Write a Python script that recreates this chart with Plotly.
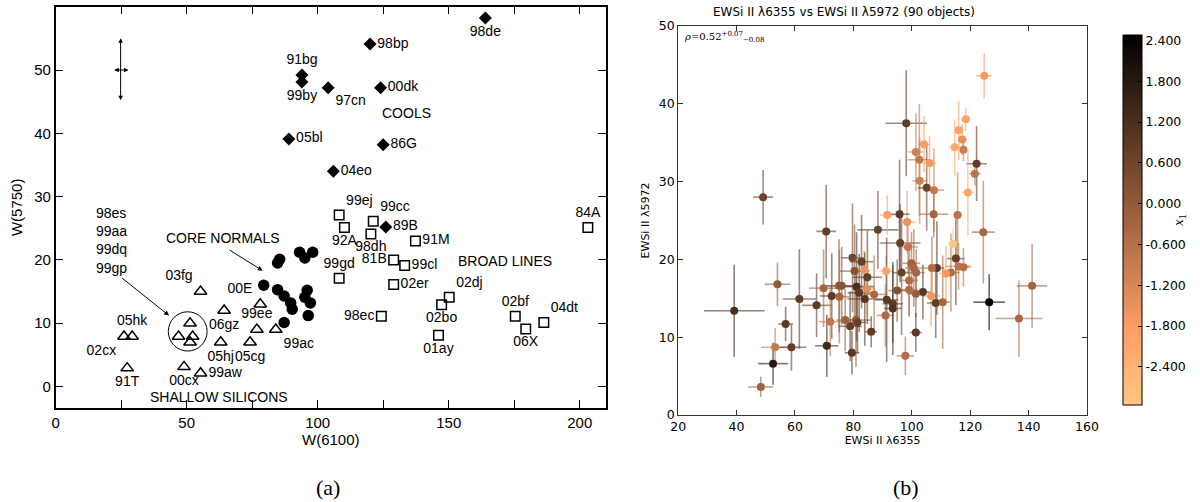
import plotly.graph_objects as go

# ---------------- Panel (a) data ----------------
cool_names = ["98de", "98bp", "91bg", "99by", "97cn", "00dk", "05bl", "86G", "04eo", "89B"]
cool_w6100 = [164.0, 120.0, 94.0, 94.0, 104.0, 124.0, 89.0, 125.0, 106.0, 126.0]
cool_w5750 = [58.2, 54.1, 49.2, 48.1, 47.2, 47.2, 39.1, 38.2, 34.0, 25.2]

core_w6100 = [79.4, 84.7, 85.5, 93.1, 95.1, 98.1, 84.7, 87.2, 89.7, 90.3, 96.0, 95.1, 97.2, 96.4, 87.2]
core_w5750 = [16.0, 19.5, 20.1, 21.2, 20.3, 21.2, 15.3, 14.3, 13.2, 12.2, 15.2, 14.1, 13.2, 11.2, 10.1]

ss_names = ["03fg", "06gz", "00E", "99ee", "99ac", "05hj", "05cg", "00cx", "99aw", "02cx", "05hk", "91T"]
ss_w6100 = [55.3, 64.3, 78.1, 76.8, 84.0, 63.0, 74.2, 49.0, 55.3, 26.1, 29.2, 27.3]
ss_w5750 = [15.0, 12.0, 13.0, 9.0, 9.0, 7.0, 7.0, 3.1, 2.1, 7.9, 7.9, 2.9]

cluster_names = ["98es", "99aa", "99dq", "99gp"]
cluster_w6100 = [51.3, 46.9, 52.3, 51.3]
cluster_w5750 = [10.0, 7.9, 7.9, 7.0]

bl_names = ["99ej", "92A", "99cc", "98dh", "91M", "81B", "99cl", "99gd", "02er", "02dj",
            "02bo", "98ec", "01ay", "02bf", "06X", "04dt", "84A"]
bl_w6100 = [108.2, 110.2, 121.2, 120.3, 137.3, 129.0, 133.2, 108.2, 129.0, 150.2,
            147.3, 124.3, 146.1, 175.4, 179.4, 186.3, 203.1]
bl_w5750 = [27.1, 25.1, 26.1, 24.1, 23.0, 20.0, 19.1, 17.1, 16.1, 14.1,
            12.9, 11.1, 8.1, 11.1, 9.1, 10.1, 25.1]

# typical error bars drawn in the corner
typ_err_w6100 = 3.0
typ_err_w5750 = 5.0

# ---------------- Panel (b) data ----------------
ew6355 = [39.2, 54.0, 56.8, 53.2, 52.5, 48.3, 58.8, 61.5, 67.4, 70.9,
          70.7, 69.8, 72.1, 72.6, 75.1, 75.2, 76.0, 77.2, 78.9, 79.5,
          79.7, 80.4, 81.1, 80.9, 81.4, 82.0, 82.8, 83.7, 83.9, 84.8,
          84.6, 86.1, 87.1, 88.4, 91.0, 91.2, 91.4, 93.5, 93.5, 97.8,
          96.0, 96.5, 98.4, 98.7, 99.1, 99.9, 49.1, 98.1, 91.6, 95.8,
          118.5, 116.1, 117.3, 114.7, 117.7, 122.2, 121.6, 119.2, 101.4, 104.2,
          102.6, 106.1, 102.7, 105.1, 107.6, 107.5, 115.7, 124.5, 114.1, 124.8,
          126.5, 141.2, 136.7, 115.1, 108.6, 106.9, 116.0, 117.7, 113.4, 111.7,
          106.6, 108.2, 110.6, 103.8, 101.4, 101.4, 100.7, 101.5, 99.1, 95.0]
ew5972 = [13.4, 16.8, 11.7, 8.7, 6.6, 3.6, 8.7, 14.9, 14.1, 8.9,
          23.6, 16.3, 12.0, 15.3, 16.6, 15.2, 16.6, 12.2, 11.4, 8.0,
          20.2, 18.5, 16.5, 12.2, 11.9, 15.7, 19.7, 18.6, 14.9, 17.7,
          16.2, 10.7, 15.5, 23.8, 12.8, 18.5, 14.8, 14.3, 13.7, 7.6,
          22.1, 18.3, 24.8, 21.6, 17.3, 19.5, 28.0, 37.5, 25.7, 25.8,
          38.0, 36.6, 35.4, 34.4, 34.1, 32.3, 31.0, 28.6, 33.8, 34.8,
          32.8, 32.4, 30.1, 29.2, 28.9, 25.8, 25.7, 23.5, 22.0, 43.6,
          14.5, 16.6, 12.4, 20.1, 18.9, 18.9, 19.1, 19.0, 18.3, 18.2,
          15.3, 14.4, 14.5, 15.8, 15.6, 10.6, 18.9, 18.3, 16.1, 16.0]
err6355 = [10.4, 4.3, 2.5, 4.8, 5.1, 4.3, 5.1, 5.7, 5.0, 4.0,
           3.4, 5.0, 4.0, 4.0, 4.5, 3.5, 5.0, 3.0, 4.0, 2.5,
           4.0, 5.0, 6.0, 5.0, 3.0, 4.0, 4.0, 2.0, 6.0, 5.0,
           3.0, 2.0, 4.0, 7.0, 3.0, 2.0, 4.0, 3.5, 3.0, 3.0,
           7.0, 3.0, 3.0, 3.5, 3.0, 3.0, 3.4, 7.1, 2.5, 3.5,
           1.5, 1.5, 1.5, 2.0, 1.0, 3.5, 2.0, 2.0, 2.5, 2.0,
           4.0, 2.0, 2.5, 3.0, 3.5, 5.0, 1.5, 4.0, 1.5, 2.8,
           5.4, 5.2, 8.1, 3.0, 2.5, 3.0, 4.5, 2.0, 3.0, 2.5,
           3.0, 3.0, 2.5, 2.5, 3.0, 2.0, 3.0, 3.0, 2.5, 3.0]
err5972 = [5.9, 2.8, 2.2, 2.5, 2.7, 1.3, 3.0, 6.4, 4.1, 4.0,
           6.0, 5.0, 4.5, 5.5, 6.0, 6.0, 5.0, 4.0, 4.5, 2.8,
           7.0, 6.0, 7.0, 6.0, 4.0, 5.0, 6.0, 2.5, 6.0, 6.0,
           3.5, 2.0, 5.0, 5.0, 4.0, 2.0, 8.0, 5.0, 6.0, 2.5,
           5.0, 8.0, 4.0, 3.5, 4.5, 4.0, 3.5, 6.8, 2.5, 7.0,
           1.5, 3.8, 2.0, 3.6, 1.5, 4.8, 1.5, 5.5, 5.0, 3.6,
           7.2, 3.5, 5.5, 5.5, 5.4, 3.0, 5.5, 6.6, 2.0, 2.9,
           3.6, 5.4, 4.9, 6.0, 6.0, 4.0, 3.0, 2.5, 5.0, 3.5,
           4.0, 4.5, 6.0, 3.5, 3.0, 2.5, 5.0, 3.0, 3.5, 4.0]
x1 = [1.2, 0.0, 0.9, -0.9, 1.8, -0.2, 0.8, 0.9, 0.9, 1.4,
      0.8, -0.3, -0.8, 0.9, 0.1, -0.3, 0.2, -0.2, 0.8, 1.0,
      0.5, 0.2, 1.2, 0.0, 0.8, 0.9, 0.7, -1.6, 1.0, 0.8,
      -1.4, 0.9, -0.4, 0.7, -0.4, -1.9, 0.9, 0.9, 1.1, -0.5,
      0.8, 0.7, -1.5, -0.8, -0.5, -0.2, 0.6, 0.9, -1.8, 0.9,
      -1.9, -1.9, -1.5, -2.1, -1.0, 0.9, -0.7, -2.1, -1.0, -1.8,
      -0.8, -1.7, -1.0, 0.6, -0.9, -0.3, -0.7, -0.3, -2.96, -1.7,
      2.48, -0.3, -0.4, 0.8, 0.9, -0.5, -0.7, -0.6, -0.5, -1.7,
      -1.6, 0.8, -0.3, 1.0, -0.1, 0.9, -0.3, -0.3, -0.5, 0.3]

cbar_ticks = [2.4, 1.8, 1.2, 0.6, 0.0, -0.6, -1.2, -1.8, -2.4]

# ---------------- helpers ----------------
cmin, cmax = min(x1), max(x1)


def copper_r(v, alpha=1.0):
    t = (v - cmin) / (cmax - cmin)
    c = 1.0 - t
    r = min(1.0, 1.25 * c)
    g = 0.7812 * c
    b = 0.4975 * c
    return "rgba(%d,%d,%d,%.2f)" % (round(r * 255), round(g * 255), round(b * 255), alpha)


copper_scale = [[0.0, "rgb(255,199,127)"], [0.2, "rgb(255,159,101)"], [1.0, "rgb(0,0,0)"]]

LAB = dict(family="Liberation Sans, Arial, sans-serif", size=14, color="black")

fig = go.Figure()

# ---- Panel (a) ----
cool_pos = ["bottom center", "middle right", "top center", "bottom center", "bottom right",
            "middle right", "middle right", "middle right", "middle right", "middle right"]
fig.add_trace(go.Scatter(
    x=cool_w6100, y=cool_w5750, mode="markers+text", text=cool_names,
    textposition=cool_pos, textfont=LAB,
    marker=dict(symbol="diamond", size=10, color="black"),
    xaxis="x", yaxis="y", showlegend=False))

fig.add_trace(go.Scatter(
    x=core_w6100, y=core_w5750, mode="markers",
    marker=dict(symbol="circle", size=11.5, color="black"),
    xaxis="x", yaxis="y", showlegend=False))

ss_pos = ["top left", "bottom center", "top left", "top center", "bottom right", "bottom center",
          "bottom center", "bottom center", "middle right", "bottom left", "top center", "bottom center"]
fig.add_trace(go.Scatter(
    x=ss_w6100, y=ss_w5750, mode="markers+text", text=ss_names,
    textposition=ss_pos, textfont=LAB,
    marker=dict(symbol="triangle-up-open", size=11, color="black", line=dict(width=1.5)),
    xaxis="x", yaxis="y", showlegend=False))

fig.add_trace(go.Scatter(
    x=cluster_w6100, y=cluster_w5750, mode="markers",
    marker=dict(symbol="triangle-up-open", size=11, color="black", line=dict(width=1.5)),
    xaxis="x", yaxis="y", showlegend=False))

bl_pos = ["top right", "bottom center", "top right", "bottom center", "middle right", "middle left",
          "middle right", "top center", "middle right", "top right", "bottom center", "middle left",
          "bottom center", "top center", "bottom center", "top right", "top center"]
fig.add_trace(go.Scatter(
    x=bl_w6100, y=bl_w5750, mode="markers+text", text=bl_names,
    textposition=bl_pos, textfont=LAB,
    marker=dict(symbol="square-open", size=9.5, color="black", line=dict(width=1.5)),
    xaxis="x", yaxis="y", showlegend=False))

# ---- Panel (b): error bars, one trace per object (colour per object) ----
for xi, yi, ex, ey, ci in zip(ew6355, ew5972, err6355, err5972, x1):
    col = copper_r(ci, 0.6)
    fig.add_trace(go.Scatter(
        x=[xi], y=[yi], mode="markers",
        marker=dict(size=1, color="rgba(0,0,0,0)"),
        error_x=dict(type="data", array=[ex], color=col, thickness=1.6, width=0),
        error_y=dict(type="data", array=[ey], color=col, thickness=1.6, width=0),
        xaxis="x2", yaxis="y2", showlegend=False, hoverinfo="skip"))

fig.add_trace(go.Scatter(
    x=ew6355, y=ew5972, mode="markers",
    marker=dict(size=8, color=x1, colorscale=copper_scale, cmin=cmin, cmax=cmax,
                showscale=True,
                colorbar=dict(
                    x=1120 / 1200, xanchor="left", thickness=19, thicknessmode="pixels",
                    len=390, lenmode="pixels", y=1 - 220 / 502, yanchor="middle",
                    tickvals=cbar_ticks, ticktext=["%.3f" % v for v in cbar_ticks],
                    ticks="inside", ticklen=4, tickcolor="black",
                    outlinewidth=1, outlinecolor="black",
                    tickfont=dict(family="DejaVu Sans", size=12.5, color="black"),
                )),
    xaxis="x2", yaxis="y2", showlegend=False))

# ---------------- layout ----------------
AX_A = dict(showline=True, linecolor="black", linewidth=1.5, mirror="ticks", ticks="inside",
            ticklen=8, tickwidth=1.2, tickcolor="black", showgrid=False, zeroline=False,
            tickfont=dict(family="Liberation Sans, Arial", size=15, color="black"), automargin=False)
AX_B = dict(showline=True, linecolor="#333", linewidth=1, mirror="ticks", ticks="inside",
            ticklen=5, tickwidth=1, tickcolor="#333", showgrid=False, zeroline=False,
            tickfont=dict(family="DejaVu Sans", size=12.5, color="black"), automargin=False)

x_a_ticks = [0, 25, 50, 75, 100, 125, 150, 175, 200]
x_b_ticks = [20, 40, 60, 80, 100, 120, 140, 160]
y_b_ticks = [0, 10, 20, 30, 40, 50]

fig.update_layout(
    width=1200, height=502, margin=dict(l=0, r=0, t=0, b=0),
    paper_bgcolor="white", plot_bgcolor="white", showlegend=False,
    xaxis=dict(AX_A, domain=[56 / 1200, 610 / 1200], range=[0, 210], anchor="y",
               tickvals=x_a_ticks, ticktext=[str(v) if v % 50 == 0 else "" for v in x_a_ticks],
               title=dict(text="W(6100)", standoff=4,
                          font=dict(family="Liberation Sans, Arial", size=15, color="black"))),
    yaxis=dict(AX_A, domain=[1 - 408 / 502, 1 - 6.7 / 502], range=[-3.4, 60], anchor="x",
               tickvals=[0, 10, 20, 30, 40, 50],
               title=dict(text="W(5750)", standoff=8,
                          font=dict(family="Liberation Sans, Arial", size=15, color="black"))),
    xaxis2=dict(AX_B, domain=[682.7 / 1200, 1094.3 / 1200], range=[19.999, 160.001], anchor="y2",
                tickvals=x_b_ticks,
                title=dict(text="EWSi II λ6355", standoff=2,
                           font=dict(family="DejaVu Sans", size=11, color="black"))),
    yaxis2=dict(AX_B, domain=[1 - 415 / 502, 1 - 26 / 502], range=[-0.001, 50.001], anchor="x2",
                tickvals=y_b_ticks,
                title=dict(text="EWSi II λ5972", standoff=6,
                           font=dict(family="DejaVu Sans", size=11, color="black"))),
)

# circle around the cluster of four shallow-silicon objects
fig.add_shape(type="circle", xref="x", yref="y", x0=43.0, x1=57.8, y0=5.6, y1=11.8,
              line=dict(color="black", width=1))

annotations = [
    dict(x=134, y=43.2, xref="x", yref="y", text="COOLS", showarrow=False, font=LAB),
    dict(x=171.6, y=19.9, xref="x", yref="y", text="BROAD LINES", showarrow=False, font=LAB),
    dict(x=62.2, y=-1.6, xref="x", yref="y", text="SHALLOW SILICONS", showarrow=False, font=LAB),
    dict(x=63.9, y=23.4, xref="x", yref="y", text="CORE NORMALS", showarrow=False, font=LAB),
    dict(x=21.3, y=23.1, xref="x", yref="y", text="98es<br>99aa<br>99dq<br>99gp",
         showarrow=False, font=LAB, align="left"),
    # arrows
    dict(x=79.0, y=18.3, ax=65.8, ay=21.7, xref="x", yref="y", axref="x", ayref="y", text="",
         showarrow=True, arrowhead=2, arrowsize=1, arrowwidth=1, arrowcolor="black"),
    dict(x=43.3, y=11.2, ax=24.8, ay=17.3, xref="x", yref="y", axref="x", ayref="y", text="",
         showarrow=True, arrowhead=2, arrowsize=1, arrowwidth=1, arrowcolor="black"),
    # typical error cross
    dict(x=24.8, y=50 + typ_err_w5750, ax=24.8, ay=50 - typ_err_w5750, xref="x", yref="y",
         axref="x", ayref="y", text="", showarrow=True, arrowhead=2, arrowside="end+start",
         arrowsize=0.9, arrowwidth=1, arrowcolor="black"),
    dict(x=24.8 + typ_err_w6100, y=50, ax=24.8 - typ_err_w6100, ay=50, xref="x", yref="y",
         axref="x", ayref="y", text="", showarrow=True, arrowhead=2, arrowside="end+start",
         arrowsize=0.9, arrowwidth=1, arrowcolor="black"),
    # panel (b) text
    dict(x=850 / 1200, y=1 - 12 / 502, xref="paper", yref="paper", xanchor="center", yanchor="middle",
         text="EWSi II λ6355 vs EWSi II λ5972 (90 objects)", showarrow=False,
         font=dict(family="DejaVu Sans", size=12, color="black")),
    dict(x=0.01, y=0.995, xref="x2 domain", yref="y2 domain", xanchor="left", yanchor="top",
         text="<i>ρ</i>=0.52<sup>+0.07</sup><sub>−0.08</sub>", showarrow=False,
         font=dict(family="DejaVu Serif", size=10, color="black")),
    # colour bar label
    dict(x=1188 / 1200, y=1 - 220 / 502, xref="paper", yref="paper", xanchor="center", yanchor="middle",
         text="<i>x</i><sub>1</sub>", textangle=-90, showarrow=False,
         font=dict(family="DejaVu Serif", size=12, color="black")),
    # panel tags
    dict(x=330 / 1200, y=1 - 487 / 502, xref="paper", yref="paper", xanchor="center", yanchor="middle",
         text="(a)", showarrow=False,
         font=dict(family="Liberation Serif, DejaVu Serif", size=22, color="black")),
    dict(x=912 / 1200, y=1 - 487 / 502, xref="paper", yref="paper", xanchor="center", yanchor="middle",
         text="(b)", showarrow=False,
         font=dict(family="Liberation Serif, DejaVu Serif", size=22, color="black")),
]
fig.update_layout(annotations=annotations)

fig.write_html("out.html", config={"displayModeBar": False},
               post_script="document.body.style.margin='0';")
